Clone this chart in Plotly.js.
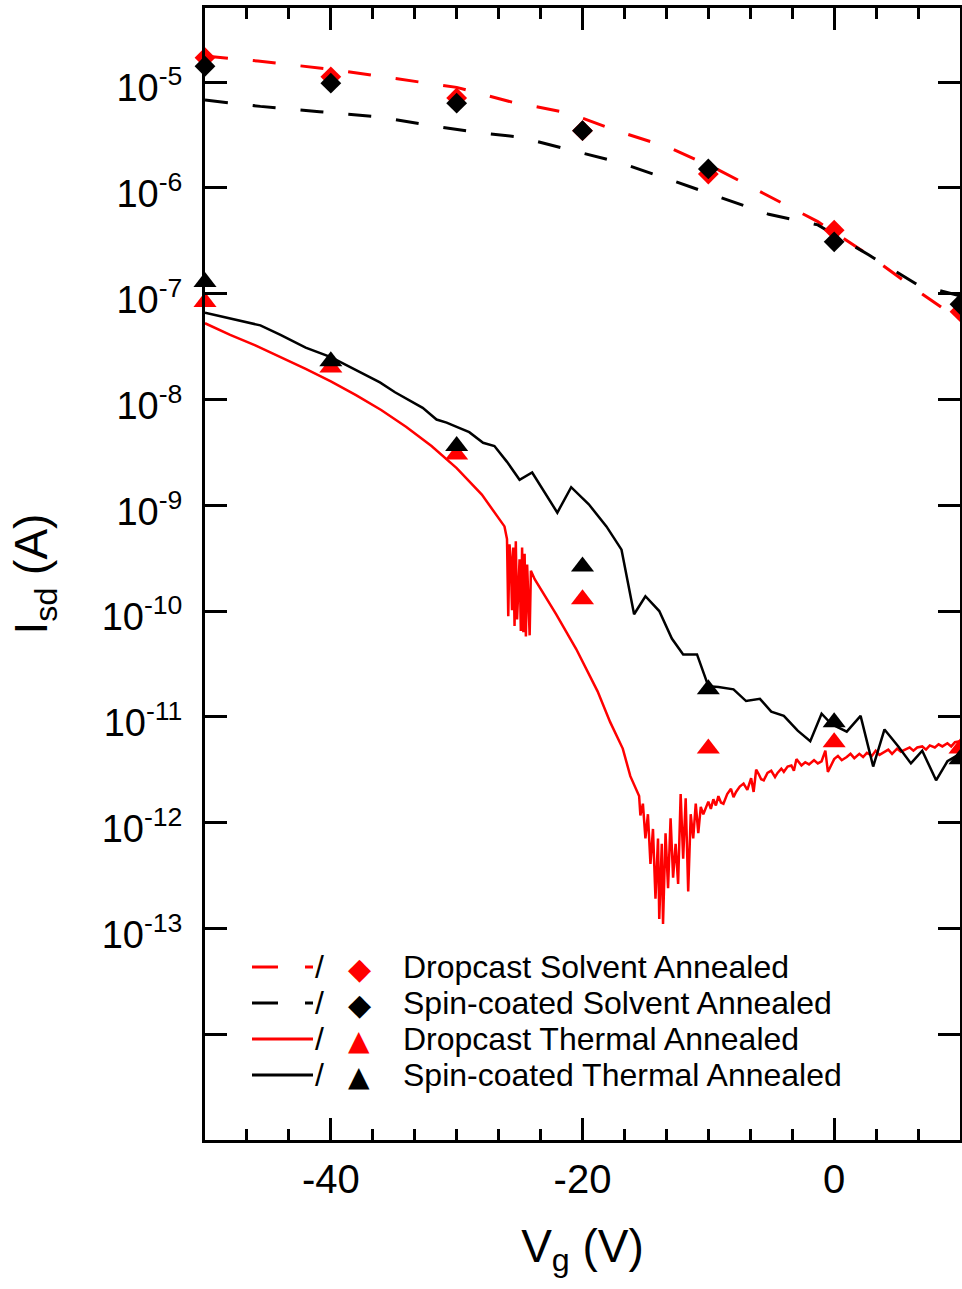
<!DOCTYPE html>
<html>
<head>
<meta charset="utf-8">
<script src="https://cdn.plot.ly/plotly-3.0.1.min.js"></script>
<style>html,body{margin:0;padding:0;background:#fff;}#chart{width:962px;height:1289px;}</style>
</head>
<body>
<div id="chart"></div>
<script>
// ---------- data ----------
const markerVg = [-50, -40, -30, -20, -10, 0, 10];

const dropSolventMarkers = [1.70e-5, 1.12e-5, 7.08e-6, 3.47e-6, 1.35e-6, 3.98e-7, 6.76e-8];
const spinSolventMarkers = [1.41e-5, 9.77e-6, 6.31e-6, 3.47e-6, 1.51e-6, 3.09e-7, 7.94e-8];
const dropThermalMarkers = [8.32e-8, 2.00e-8, 3.02e-9, 1.29e-10, 5.01e-12, 5.75e-12, 5.01e-12];
const spinThermalMarkers = [1.29e-7, 2.29e-8, 3.63e-9, 2.63e-10, 1.82e-11, 8.91e-12, 3.98e-12];

const dropSolventLineVg = [-50, -45.8, -40, -34.5, -30, -25.6, -21.2, -17.3, -13.1, -9.2, -5.2, -1.3, 2.7, 6.7, 10];
const dropSolventLineI  = [1.76e-5, 1.58e-5, 1.32e-5, 1.07e-5, 8.91e-6, 6.46e-6, 5.13e-6, 3.47e-6, 2.40e-6, 1.48e-6, 8.32e-7, 4.79e-7, 2.34e-7, 1.05e-7, 5.62e-8];

const spinSolventLineVg = [-50, -45.6, -40.9, -36.1, -32.1, -28.2, -25.0, -21.1, -17.1, -13.1, -9.2, -5.2, -1.3, 2.7, 6.7, 10];
const spinSolventLineI  = [6.76e-6, 5.89e-6, 5.25e-6, 4.68e-6, 3.89e-6, 3.31e-6, 3.02e-6, 2.29e-6, 1.74e-6, 1.20e-6, 8.32e-7, 5.62e-7, 4.47e-7, 2.34e-7, 1.20e-7, 9.55e-8];

const dropThermalLineVg = [
  -50, -48, -46, -44, -42, -40, -38, -36, -34, -32, -30, -28, -26.2, -26.0,
  -25.9, -25.8, -25.7, -25.6, -25.5, -25.4, -25.3, -25.2, -25.0, -24.9, -24.8, -24.7, -24.6, -24.5, -24.4, -24.2, -24.1, -23.8,
  -22.1, -20.5, -19.5, -18.8, -17.8, -16.8, -16.2, -15.5, -15.4,
  -15.2, -15.0, -14.8, -14.6, -14.4, -14.2, -14.0, -13.9, -13.7, -13.6, -13.4, -13.2, -13.0, -12.8, -12.6, -12.4, -12.2, -12.0, -11.8, -11.6, -11.4, -11.2, -11.0, -10.8, -10.6, -10.4,
  -10.0, -9.8, -9.6, -9.4, -9.2, -9.0, -8.8, -8.5, -8.2, -8.0, -7.8, -7.5, -7.2, -6.9, -6.6, -6.4, -6.2, -6.0, -5.8, -5.6, -5.3, -5.0, -4.7, -4.5, -4.2, -4.0, -3.7, -3.4, -3.2, -3.0, -2.6, -2.3, -2.0, -1.6, -1.3, -1.0, -0.7, -0.5,
  0, 0.3, 0.6, 1.0, 1.3, 1.6, 2.0, 2.3, 2.6, 3.0, 3.3, 3.6, 4.0, 4.3, 4.6, 5.0, 5.3, 5.6, 6.0, 6.3, 6.6, 7.0, 7.3, 7.6, 8.0, 8.3, 8.6, 9.0, 9.3, 9.6, 10
];
const dropThermalLineI = [
  5.25e-8, 4.07e-8, 3.24e-8, 2.51e-8, 1.95e-8, 1.48e-8, 1.10e-8, 7.94e-9, 5.50e-9, 3.63e-9, 2.24e-9, 1.26e-9, 6.31e-10, 4.79e-10,
  8.91e-11, 4.27e-10, 3.09e-10, 1.02e-10, 3.98e-10, 7.24e-11, 4.57e-10, 8.32e-11, 3.09e-10, 6.46e-11, 3.98e-10, 6.31e-11, 3.47e-10, 5.75e-11, 2.75e-10, 5.89e-11, 2.40e-10, 2.00e-10,
  9.33e-11, 4.37e-11, 2.57e-11, 1.74e-11, 8.91e-12, 5.01e-12, 2.75e-12, 1.78e-12, 1.17e-12,
  1.51e-12, 7.08e-13, 1.20e-12, 4.07e-13, 8.71e-13, 1.91e-13, 7.08e-13, 1.23e-13, 6.31e-13, 1.10e-13, 7.94e-13, 2.40e-13, 1.10e-12, 3.02e-13, 6.31e-13, 2.63e-13, 1.86e-12, 4.57e-13, 1.70e-12, 2.24e-13, 1.20e-12, 7.08e-13, 1.51e-12, 7.94e-13, 1.41e-12, 1.20e-12,
  1.58e-12, 1.35e-12, 1.66e-12, 1.45e-12, 1.78e-12, 1.55e-12, 1.51e-12, 1.86e-12, 2.09e-12, 1.74e-12, 1.95e-12, 2.19e-12, 2.34e-12, 2.04e-12, 2.63e-12, 1.95e-12, 3.16e-12, 2.88e-12, 2.57e-12, 2.51e-12, 2.95e-12, 3.09e-12, 2.69e-12, 2.95e-12, 3.24e-12, 3.02e-12, 3.39e-12, 3.47e-12, 3.09e-12, 3.98e-12, 3.47e-12, 3.72e-12, 3.55e-12, 3.89e-12, 3.63e-12, 3.80e-12, 4.79e-12, 3.02e-12,
  3.98e-12, 4.27e-12, 3.89e-12, 4.17e-12, 4.47e-12, 4.07e-12, 4.47e-12, 4.17e-12, 4.57e-12, 4.27e-12, 4.79e-12, 4.37e-12, 4.68e-12, 4.90e-12, 4.47e-12, 5.01e-12, 4.68e-12, 4.90e-12, 5.13e-12, 4.79e-12, 5.13e-12, 5.25e-12, 4.90e-12, 5.37e-12, 5.13e-12, 5.50e-12, 5.25e-12, 5.62e-12, 5.25e-12, 5.75e-12, 5.89e-12
];

const spinThermalLineVg = [-50, -45.6, -44, -42, -40, -36.1, -34.9, -32.7, -31.6, -30.8, -30, -29, -27.9, -27, -26, -25, -24, -22, -20.9, -19.5, -18.1, -16.9, -15.9, -15, -13.9, -12.9, -12, -10.9, -10, -9.2, -8, -7, -5.9, -5, -4, -2.9, -1.9, -1, -0.2, 1, 2.1, 3.1, 4, 5.1, 6.1, 7, 8.1, 9, 10];
const spinThermalLineI  = [6.61e-8, 5.01e-8, 4.07e-8, 3.09e-8, 2.51e-8, 1.45e-8, 1.17e-8, 8.32e-9, 6.46e-9, 6.03e-9, 5.50e-9, 4.90e-9, 3.89e-9, 3.63e-9, 2.57e-9, 1.74e-9, 2.04e-9, 8.51e-10, 1.48e-9, 1.02e-9, 6.31e-10, 3.80e-10, 9.33e-11, 1.38e-10, 1.00e-10, 5.50e-11, 3.89e-11, 3.89e-11, 1.95e-11, 1.91e-11, 1.82e-11, 1.41e-11, 1.48e-11, 1.12e-11, 1.02e-11, 7.41e-12, 5.89e-12, 1.07e-11, 8.51e-12, 7.24e-12, 1.02e-11, 3.39e-12, 7.59e-12, 5.25e-12, 3.63e-12, 4.79e-12, 2.51e-12, 3.80e-12, 4.47e-12];

const xTickVals = [-40, -20, 0];
const xTickText = ['-40', '-20', '0'];
const yTickVals = [1e-5, 1e-6, 1e-7, 1e-8, 1e-9, 1e-10, 1e-11, 1e-12, 1e-13, 1e-14];
const yTickText = ['10<sup>-5</sup>', '10<sup>-6</sup>', '10<sup>-7</sup>', '10<sup>-8</sup>', '10<sup>-9</sup>', '10<sup>-10</sup>', '10<sup>-11</sup>', '10<sup>-12</sup>', '10<sup>-13</sup>', ''];

const legendLabels = ['Dropcast Solvent Annealed', 'Spin-coated Solvent Annealed', 'Dropcast Thermal Annealed', 'Spin-coated Thermal Annealed'];

// ---------- styles ----------
const RED = 'rgb(255,0,0)';
const BLK = 'rgb(0,0,0)';
const FONT = 'Liberation Sans, Arial, Helvetica, sans-serif';
const DASH = '23px,25px';

const traces = [
  {x: dropSolventLineVg, y: dropSolventLineI, mode: 'lines', line: {color: RED, width: 3, dash: DASH}},
  {x: spinSolventLineVg, y: spinSolventLineI, mode: 'lines', line: {color: BLK, width: 3, dash: DASH}},
  {x: dropThermalLineVg, y: dropThermalLineI, mode: 'lines', line: {color: RED, width: 2.5}},
  {x: spinThermalLineVg, y: spinThermalLineI, mode: 'lines', line: {color: BLK, width: 2.5}},
  {x: markerVg, y: dropSolventMarkers, mode: 'markers', cliponaxis: false, marker: {symbol: 'diamond', size: 16, color: RED}},
  {x: markerVg, y: dropThermalMarkers, mode: 'markers', cliponaxis: false, marker: {symbol: 'triangle-up', size: 20, color: RED}},
  {x: markerVg, y: spinSolventMarkers, mode: 'markers', cliponaxis: false, marker: {symbol: 'diamond', size: 16, color: BLK}},
  {x: markerVg, y: spinThermalMarkers, mode: 'markers', cliponaxis: false, marker: {symbol: 'triangle-up', size: 20, color: BLK}}
].map(t => Object.assign(t, {showlegend: false, hoverinfo: 'skip'}));

// legend built from shapes + annotations (paper coords)
const L = 205, R = 960, T = 8, B = 1140;
const px = v => (v - L) / (R - L);
const py = v => (B - v) / (B - T);
const rowsY = [967, 1003, 1039, 1075];
const rowColor = [RED, BLK, RED, BLK];
const rowDash = ['26px,27px,8px', '26px,27px,8px', 'solid', 'solid'];
const rowSym = ['\u25C6', '\u25C6', '\u25B2', '\u25B2'];
const rowSymSize = [30, 30, 28, 28];

const shapes = [];
const annotations = [];
rowsY.forEach((yy, i) => {
  shapes.push({type: 'line', xref: 'paper', yref: 'paper', x0: px(252), x1: px(313), y0: py(yy), y1: py(yy),
    line: {color: rowColor[i], width: 3, dash: rowDash[i]}});
  annotations.push({xref: 'paper', yref: 'paper', x: px(319), y: py(yy), text: '/', showarrow: false,
    xanchor: 'center', yanchor: 'middle', font: {family: FONT, size: 32, color: BLK}});
  annotations.push({xref: 'paper', yref: 'paper', x: px(359), y: py(yy + 1), text: rowSym[i], showarrow: false,
    xanchor: 'center', yanchor: 'middle', font: {family: 'DejaVu Sans', size: rowSymSize[i], color: rowColor[i]}});
  annotations.push({xref: 'paper', yref: 'paper', x: px(401), y: py(yy), text: legendLabels[i], showarrow: false,
    xanchor: 'left', yanchor: 'middle', font: {family: FONT, size: 32, color: BLK}});
});

const layout = {
  width: 962, height: 1289,
  margin: {l: 205, r: 2, t: 8, b: 149},
  paper_bgcolor: '#fff', plot_bgcolor: '#fff',
  font: {family: FONT, color: BLK},
  showlegend: false,
  xaxis: {
    range: [-50, 10], tickmode: 'array', tickvals: xTickVals, ticktext: xTickText,
    ticks: 'inside', ticklen: 22, tickwidth: 3, tickcolor: BLK,
    showline: true, linewidth: 3, linecolor: BLK, mirror: 'ticks',
    showgrid: false, zeroline: false,
    tickfont: {family: FONT, size: 40, color: BLK},
    ticklabelstandoff: 2,
    minor: {tickmode: 'linear', tick0: 0, dtick: 20 / 6, ticks: 'inside', ticklen: 11, tickwidth: 3, tickcolor: BLK, showgrid: false},
    title: {text: 'V<sub>g</sub> (V)', font: {family: FONT, size: 46, color: BLK}, standoff: 30},
    automargin: false
  },
  yaxis: {
    type: 'log', range: [-15, -4.3],
    tickmode: 'array', tickvals: yTickVals, ticktext: yTickText,
    ticks: 'inside', ticklen: 22, tickwidth: 3, tickcolor: BLK,
    showline: true, linewidth: 3, linecolor: BLK, mirror: 'ticks',
    showgrid: false, zeroline: false,
    tickfont: {family: FONT, size: 38, color: BLK},
    ticklabelstandoff: 12,
    ticklabelshift: 6,
    title: {text: 'I<sub>sd</sub> (A)', font: {family: FONT, size: 46, color: BLK}, standoff: 40},
    automargin: false
  },
  shapes: shapes,
  annotations: annotations
};

Plotly.newPlot('chart', traces, layout, {staticPlot: true, displayModeBar: false});
</script>
</body>
</html>
